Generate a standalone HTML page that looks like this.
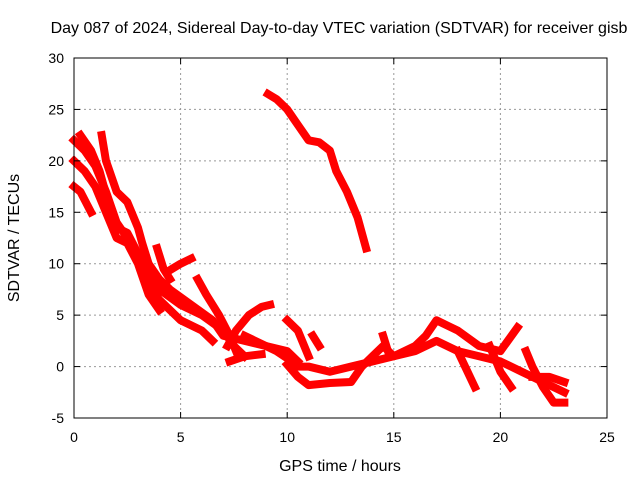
<!DOCTYPE html>
<html><head><meta charset="utf-8"><style>
body{margin:0;background:#fff}
svg text{font-family:"Liberation Sans",sans-serif;font-size:14px;fill:#000}
svg text.big{font-size:16px}
</style></head><body>
<svg width="640" height="480" viewBox="0 0 640 480">
<rect width="640" height="480" fill="#fff"/>
<g id="grid"></g>
<g id="series"></g>
<rect x="74" y="58" width="533" height="360" fill="none" stroke="#000" stroke-width="1"/>
<g id="ticks"></g>
<text class="big" x="339" y="33" text-anchor="middle">Day 087 of 2024, Sidereal Day-to-day VTEC variation (SDTVAR) for receiver gisb</text>
<text class="big" x="340" y="471" text-anchor="middle">GPS time / hours</text>
<text class="big" transform="translate(19,238) rotate(-90)" text-anchor="middle">SDTVAR / TECUs</text>
</svg>
<script>
const xTicks=[0,5,10,15,20,25];
const yTicks=[-5,0,5,10,15,20,25,30];
const track1=[[0,17.5],[0.3,17],[0.8,15]];
const track2=[[0,20],[0.5,19],[1,17.5],[1.5,15],[2,12.5],[2.5,12],[3,10],[3.5,7],[4,5.5]];
const track3=[[0,22],[0.5,21],[1,19.5],[1.5,17],[2,14],[2.5,12.5],[3,11],[3.5,8],[4,6.5],[4.5,5.5],[5,4.5],[6,3.5],[6.5,2.5]];
const track4=[[0.3,22.5],[0.8,21],[1.2,19],[1.6,16],[2,13.5],[2.5,13],[3,11],[3.5,9],[4,7.5],[5,6],[6,5],[7,3.5],[7.5,2],[8,1]];
const track5=[[1.3,22.5],[1.5,20],[2,17],[2.5,16],[3,13.5],[3.2,12],[3.5,10],[4,8.5],[4.5,7.5],[5.5,6],[6.5,4.5],[7,3],[8,2.5],[9,2],[10,1.5],[10.5,0.5]];
const track6=[[3.9,11.5],[4.2,9.5],[4.5,8.5]];
const track7=[[4.6,9.5],[5,10],[5.5,10.5]];
const track8=[[5.8,8.5],[6.2,7],[6.8,5],[7.3,3],[7.6,1.5]];
const track9=[[7.2,2],[7.6,3.5],[8.2,5],[8.8,5.8],[9.2,6]];
const track10=[[7.3,0.5],[8,1],[8.8,1.2]];
const track11=[[9.1,26.5],[9.5,26],[10,25],[10.5,23.5],[11,22],[11.5,21.8],[12,21],[12.3,19],[12.8,17],[13.3,14.5],[13.7,11.5]];
const track12=[[8,3],[9,2],[9.5,1.5],[10,0.8],[10.5,0],[11,0],[12,-0.5],[13,0],[14,0.5],[15,1],[16,1.5],[17,2.5],[18,1.5],[19,1],[20,0.5],[21,-0.5],[22,-1.5],[23,-2.5]];
const track13=[[10,0.2],[10.5,-1],[11,-1.8],[12,-1.6],[13,-1.5],[13.5,0],[14,1],[14.5,2],[15,1],[16,2],[16.5,3],[17,4.5],[17.5,4],[18,3.5],[19,2],[20,1.5],[20.8,3.8]];
const track14=[[10,4.5],[10.5,3.5],[11,1]];
const track15=[[11.2,3],[11.5,2]];
const track16=[[18,1.5],[18.8,-2]];
const track17=[[19.5,2],[20,-0.5],[20.5,-2]];
const track18=[[21.2,1.5],[21.5,0],[22,-2],[22.5,-3.5],[23,-3.5]];
const track19=[[21.5,-1],[22.3,-1],[23,-1.5]];
const track20=[[14.5,3],[14.8,1]];
const tracks=[track1,track2,track3,track4,track5,track6,track7,track8,track9,track10,track11,track12,track13,track14,track15,track16,track17,track18,track19,track20];

const X0=74,X1=607,Y0=418,Y1=58;
const xs=v=>X0+(v-0)/(25-0)*(X1-X0);
const ys=v=>Y0-(v+5)/(35)*(Y0-Y1);
const NS='http://www.w3.org/2000/svg';
const grid=document.getElementById('grid'),ticks=document.getElementById('ticks'),ser=document.getElementById('series');
function mk(t,a,p){const e=document.createElementNS(NS,t);for(const k in a)e.setAttribute(k,a[k]);p.appendChild(e);return e;}
xTicks.forEach(v=>{const x=xs(v);
 if(v>0&&v<25){const g=mk('line',{x1:x,x2:x,y1:Y1,y2:Y0,stroke:'#999','stroke-dasharray':'2,3'},grid);
 
 }
 const t=mk('text',{x:x,y:Y0+24,'text-anchor':'middle'},ticks);t.textContent=v;
 
 
 mk('line',{x1:x,x2:x,y1:Y0,y2:Y0-6,stroke:'#000'},ticks);mk('line',{x1:x,x2:x,y1:Y1,y2:Y1+6,stroke:'#000'},ticks);});
yTicks.forEach(v=>{const y=ys(v);
 if(v>-5&&v<30){const g=mk('line',{x1:X0,x2:X1,y1:y,y2:y,stroke:'#999','stroke-dasharray':'2,3'},grid);
 
 }
 const t=mk('text',{x:X0-10,y:y+5,'text-anchor':'end'},ticks);t.textContent=v;
 
 
 mk('line',{x1:X0,x2:X0+6,y1:y,y2:y,stroke:'#000'},ticks);mk('line',{x1:X1,x2:X1-6,y1:y,y2:y,stroke:'#000'},ticks);});
tracks.forEach(tr=>{const p=mk('polyline',{points:tr.map(d=>xs(d[0])+','+ys(d[1])).join(' '),fill:'none',stroke:'#f00','stroke-width':8,'stroke-linejoin':'round','stroke-linecap':'square'},ser);
 
 });
</script>
</body></html>
